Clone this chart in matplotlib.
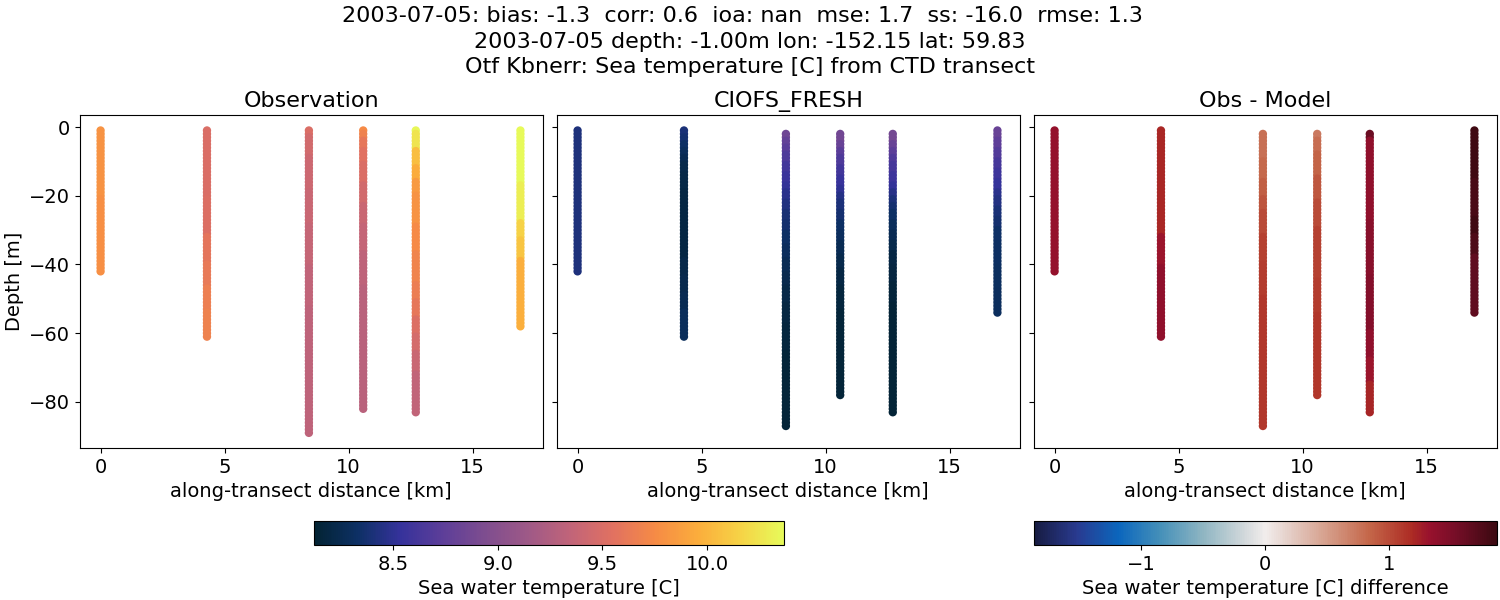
import matplotlib
matplotlib.use("Agg")
import matplotlib.pyplot as plt
from matplotlib.colors import LinearSegmentedColormap, Normalize
from matplotlib.cm import ScalarMappable

# colormaps as in cmocean (thermal, balance), cmocean itself is not available here
thermal_rgb = [(3, 35, 51), (13, 48, 100), (53, 50, 155), (93, 62, 153), (126, 77, 143), (158, 89, 135),
               (193, 100, 121), (225, 113, 97), (246, 139, 69), (251, 173, 60), (246, 211, 70), (231, 250, 90)]
balance_pos = [0.0, 0.0909, 0.1818, 0.2727, 0.3636, 0.4545, 0.5, 0.5455, 0.6364, 0.7273, 0.8182, 0.857, 0.9091, 1.0]
balance_rgb = [(23, 28, 66), (41, 58, 143), (11, 102, 189), (69, 144, 185), (142, 181, 194), (210, 216, 219),
               (241, 237, 236), (230, 210, 204), (213, 157, 137), (196, 101, 72), (172, 43, 36), (152, 17, 45),
               (120, 14, 40), (60, 9, 17)]

cast_km = [0.0, 4.29, 8.4, 10.59, 12.71, 16.93]

obs_top = [1, 1, 1, 1, 1, 1]
model_top = [1, 1, 2, 2, 2, 1]

# temperature at every metre of each cast, from the surface down
obs_temp = [
    [9.8] * 20 + [9.78] * 22,
    [9.5] * 20 + [9.52] * 11 + [9.58] * 8 + [9.62] * 7 + [9.66] * 7 + [9.68] * 8,
    [9.5] * 2 + [9.45] * 6 + [9.42] * 10 + [9.4] * 10 + [9.37] * 12 + [9.35] * 12 + [9.33] * 37,
    [9.75] * 1 + [9.68] * 2 + [9.6] * 3 + [9.55] * 4 + [9.5] * 6 + [9.45] * 6 + [9.4] * 6 + [9.36] * 8 + [9.33] * 10 + [9.3] * 36,
    [10.35] * 1 + [10.25] * 5 + [10.05] * 5 + [9.95] * 4 + [9.85] * 4 + [9.8] * 9 + [9.75] * 8 + [9.7] * 9
    + [9.65] * 5 + [9.6] * 5 + [9.52] * 5 + [9.47] * 5 + [9.4] * 6 + [9.35] * 12,
    [10.37] * 16 + [10.3] * 11 + [10.15] * 5 + [10.08] * 6 + [9.97] * 20,
]
model_temp = [
    [8.42] * 42,
    [8.4] * 2 + [8.37] * 2 + [8.33] * 2 + [8.29] * 2 + [8.26] * 2 + [8.23] * 3 + [8.21] * 5 + [8.2] * 20
    + [8.22] * 5 + [8.24] * 5 + [8.26] * 5 + [8.29] * 8,
    [8.85] * 2 + [8.78] * 2 + [8.72] * 2 + [8.66] * 3 + [8.6] * 3 + [8.56] * 3 + [8.52] * 2 + [8.48] * 3 + [8.43] * 3
    + [8.39] * 3 + [8.36] * 3 + [8.33] * 4 + [8.3] * 4 + [8.27] * 4 + [8.24] * 4 + [8.21] * 5 + [8.19] * 6 + [8.17] * 8 + [8.15] * 22,
    [8.86] * 3 + [8.8] * 2 + [8.72] * 2 + [8.66] * 3 + [8.6] * 3 + [8.55] * 3 + [8.5] * 2 + [8.45] * 2 + [8.41] * 3
    + [8.37] * 3 + [8.33] * 3 + [8.3] * 3 + [8.26] * 4 + [8.23] * 4 + [8.2] * 5 + [8.17] * 7 + [8.15] * 25,
    [8.88] * 3 + [8.8] * 2 + [8.73] * 2 + [8.67] * 2 + [8.62] * 3 + [8.57] * 3 + [8.52] * 2 + [8.46] * 2 + [8.41] * 2
    + [8.37] * 2 + [8.33] * 3 + [8.29] * 3 + [8.26] * 3 + [8.23] * 3 + [8.2] * 4 + [8.18] * 5 + [8.16] * 6 + [8.14] * 32,
    [8.8] * 3 + [8.74] * 3 + [8.68] * 3 + [8.62] * 3 + [8.57] * 3 + [8.53] * 3 + [8.48] * 2 + [8.44] * 3 + [8.4] * 3
    + [8.37] * 3 + [8.34] * 4 + [8.32] * 7 + [8.31] * 7 + [8.3] * 7,
]
diff_temp = [
    [1.35] * 42,
    [1.2] * 31 + [1.3] * 9 + [1.38] * 21,
    [0.78] * 8 + [0.82] * 6 + [0.88] * 5 + [0.94] * 4 + [1.0] * 7 + [1.05] * 8 + [1.09] * 10 + [1.12] * 38,
    [0.72] * 2 + [0.8] * 4 + [0.85] * 7 + [0.92] * 7 + [1.0] * 8 + [1.05] * 15 + [1.09] * 10 + [1.12] * 24,
    [1.6] * 2 + [1.38] * 24 + [1.42] * 16 + [1.45] * 16 + [1.38] * 8 + [1.3] * 7 + [1.22] * 9,
    [1.85] * 15 + [1.78] * 11 + [1.85] * 5 + [1.75] * 6 + [1.65] * 17,
]

temp_ticks = [8.5, 9.0, 9.5, 10.0]
diff_ticks = [-1, 0, 1]

title = ("2003-07-05: bias: -1.3  corr: 0.6  ioa: nan  mse: 1.7  ss: -16.0  rmse: 1.3  \n"
         "2003-07-05 depth: -1.00m lon: -152.15 lat: 59.83\n"
         "Otf Kbnerr: Sea temperature [C] from CTD transect")

W, H = 1500.0, 600.0


def px_axes(fig, x0, x1, y0, y1):
    return fig.add_axes([x0 / W, 1 - y1 / H, (x1 - x0) / W, (y1 - y0) / H])


def flatten(values, tops):
    x, z, c = [], [], []
    for km, top, temp in zip(cast_km, tops, values):
        x += [km] * len(temp)
        z += [-(top + i) for i in range(len(temp))]
        c += temp
    return x, z, c


def scale01(rgb):
    return [tuple(v / 255 for v in c) for c in rgb]


thermal = LinearSegmentedColormap.from_list("thermal", scale01(thermal_rgb), N=256)
balance = LinearSegmentedColormap.from_list("balance", list(zip(balance_pos, scale01(balance_rgb))), N=256)
temp_norm = Normalize(8.122, 10.368)
diff_norm = Normalize(-1.865, 1.865)

plt.rcParams["font.size"] = 14

fig = plt.figure(figsize=(15, 6), dpi=100)
fig.suptitle(title, fontsize=16, y=0.99, linespacing=1.35)

panels = [
    (80, 542.5, "Observation", obs_temp, obs_top, thermal, temp_norm),
    (557, 1019.5, "CIOFS_FRESH", model_temp, model_top, thermal, temp_norm),
    (1034, 1496.5, "Obs - Model", diff_temp, model_top, balance, diff_norm),
]
for i, (x0, x1, name, values, tops, cmap, norm) in enumerate(panels):
    ax = px_axes(fig, x0, x1, 115, 448)
    x, z, c = flatten(values, tops)
    ax.scatter(x, z, c=c, s=36, cmap=cmap, norm=norm, linewidths=0)
    ax.set_xlim(-0.83, 17.82)
    ax.set_ylim(-93.4, 3.5)
    ax.set_xticks([0, 5, 10, 15])
    ax.set_yticks([0, -20, -40, -60, -80])
    ax.set_title(name, fontsize=16)
    ax.set_xlabel("along-transect distance [km]")
    if i == 0:
        ax.set_ylabel("Depth [m]")
    else:
        ax.tick_params(labelleft=False)

cax = px_axes(fig, 314, 784, 521, 545)
fig.colorbar(ScalarMappable(norm=temp_norm, cmap=thermal), cax=cax, orientation="horizontal",
             ticks=temp_ticks, label="Sea water temperature [C]")
cax = px_axes(fig, 1034, 1496.5, 521, 545)
fig.colorbar(ScalarMappable(norm=diff_norm, cmap=balance), cax=cax, orientation="horizontal",
             ticks=diff_ticks, label="Sea water temperature [C] difference")

fig.savefig("out.png", dpi=100)
